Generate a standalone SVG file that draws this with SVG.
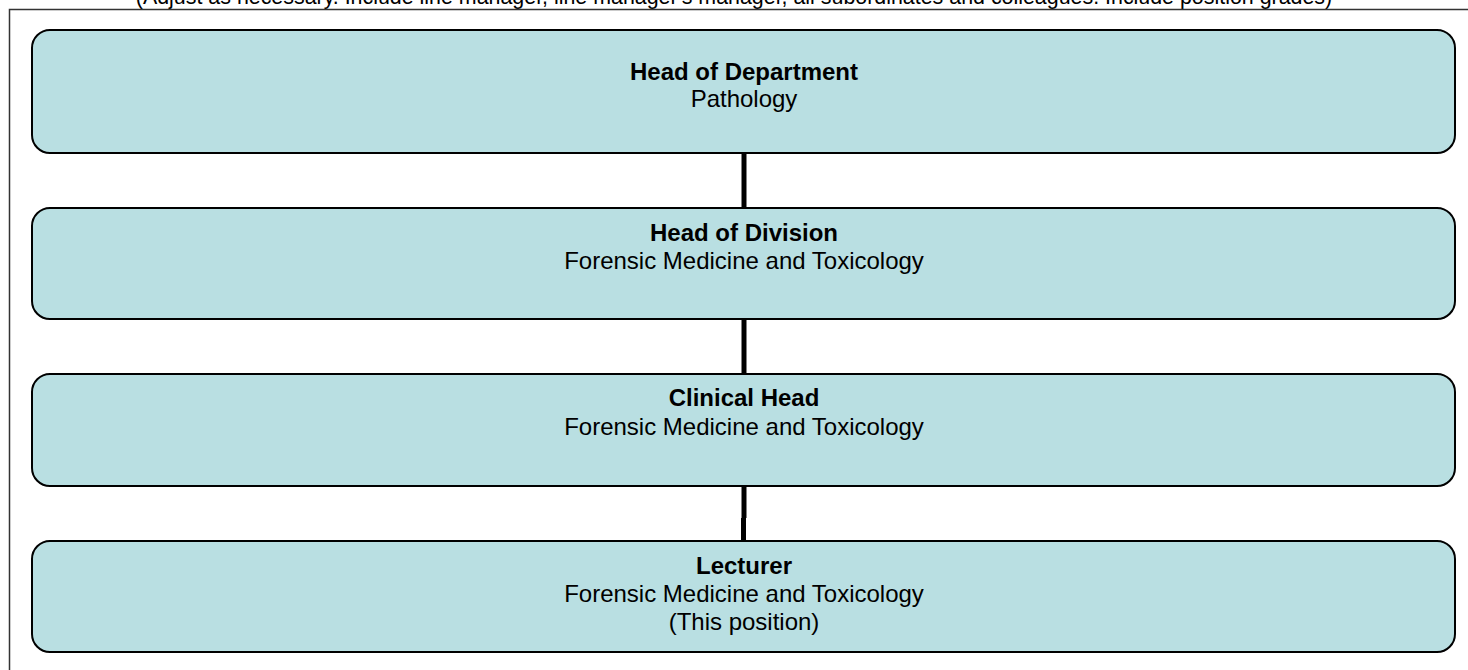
<svg xmlns="http://www.w3.org/2000/svg" width="1468" height="670" viewBox="0 0 1468 670">
<style>
.box{fill:#b9dfe2;stroke:#000;stroke-width:2}
.t{font-family:"Liberation Sans",Arial,sans-serif;font-size:24px;fill:#000;text-anchor:middle}
.b{font-weight:bold}
.conn{stroke:#000;stroke-width:5;fill:none}
</style>
<rect x="0" y="0" width="1468" height="670" fill="#fff"/>
<text class="t" x="734" y="4" style="font-size:21.4px">(Adjust as necessary. Include line manager, line manager's manager, all subordinates and colleagues. Include position grades)</text>
<path d="M9.5 680 V9.5 H1480" fill="none" stroke="#333" stroke-width="1.5"/>
<g id="connectors">
<line class="conn" x1="744" y1="153" x2="744" y2="208"/>
<line class="conn" x1="744" y1="319" x2="744" y2="374"/>
<line class="conn" x1="744" y1="486" x2="744" y2="518"/>
<line class="conn" x1="743.5" y1="518" x2="743.5" y2="541"/>
</g>
<g id="n1">
<rect class="box" x="32" y="30" width="1423" height="123" rx="18"/>
<text class="t b" x="744" y="79.5">Head of Department</text>
<text class="t" x="744" y="106.5">Pathology</text>
</g>
<g id="n2">
<rect class="box" x="32" y="208" width="1423" height="111" rx="18"/>
<text class="t b" x="744" y="240.5">Head of Division</text>
<text class="t" x="744" y="268.5">Forensic Medicine and Toxicology</text>
</g>
<g id="n3">
<rect class="box" x="32" y="374" width="1423" height="112" rx="18"/>
<text class="t b" x="744" y="405.5">Clinical Head</text>
<text class="t" x="744" y="434.5">Forensic Medicine and Toxicology</text>
</g>
<g id="n4">
<rect class="box" x="32" y="541" width="1423" height="111" rx="18"/>
<text class="t b" x="744" y="573.5">Lecturer</text>
<text class="t" x="744" y="601.5">Forensic Medicine and Toxicology</text>
<text class="t" x="744" y="629.5">(This position)</text>
</g>
</svg>
